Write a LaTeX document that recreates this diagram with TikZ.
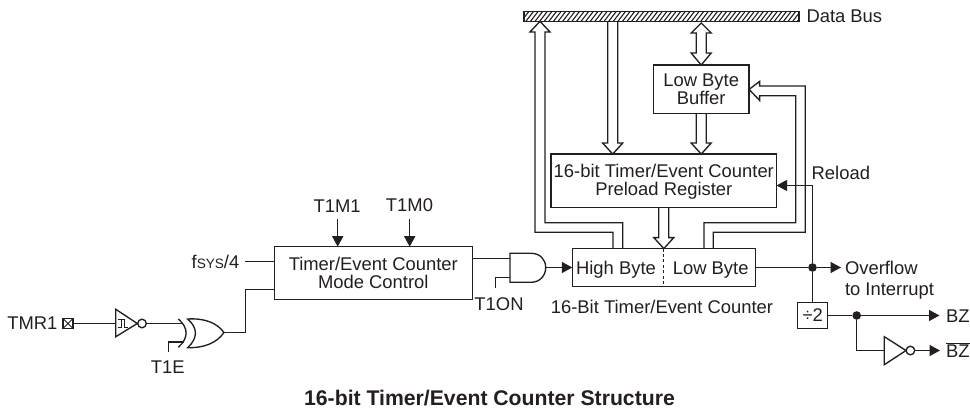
\documentclass[tikz,border=0pt]{standalone}
\usepackage{fontspec}
\setmainfont{Liberation Sans}
\usetikzlibrary{arrows.meta,calc}
\definecolor{ink}{HTML}{231F20}
\tikzset{
  x=1pt,y=-1pt,
  every node/.style={inner sep=0pt,outer sep=0pt,text=ink,font=\fontsize{18.4}{18}\selectfont},
  wire/.style={draw=ink,line width=1.35pt},
  blockbox/.style={draw=ink,line width=1.35pt,align=center},
  label/.style={anchor=base},
  labelw/.style={anchor=base west},
  solidarrow/.style={wire,-{Triangle[length=10.5pt,width=11pt]}},
  bubble/.style={circle,draw=ink,line width=1.35pt,minimum size=8.6pt,fill=white},
  dot/.style={circle,fill=ink,minimum size=8.6pt},
  pipe/.style={draw=ink,line width=1.35pt,line join=miter,fill=none},
}
% hollow arrow heads: #1 = tip, #2 = far end of the shaft
\newcommand{\pipedown}[2]{\draw[pipe] ([xshift=-5pt]#2) -- ([shift={(-5,-11)}]#1) -- ([shift={(-10,-11)}]#1) -- (#1) -- ([shift={(10,-11)}]#1) -- ([shift={(5,-11)}]#1) -- ([xshift=5pt]#2);}
\begin{document}
\begin{tikzpicture}
\useasboundingbox[fill=white] (0,0) rectangle (970,412);

% ---- blocks
\node[blockbox,minimum width=275pt,minimum height=9.4pt] (bus) at (661.5,16.5) {};
\begin{scope}
  \clip (bus.north west) rectangle (bus.south east);
  \foreach \i in {0,4.6,...,300} \draw[ink,line width=1.1pt] (520+\i,23) -- (530+\i,10);
\end{scope}
\draw[wire] (bus.north west) rectangle (bus.south east);
\node[labelw] (busl) at (806.5,23) {Data Bus};

\node[blockbox,minimum width=95.7pt,minimum height=48.7pt] (lbb) at (701.2,89.4) {Low Byte\\Buffer};
\node[blockbox,minimum width=225.5pt,minimum height=53.3pt] (plr) at (663.8,180.7) {};
\node[align=center] (plrt) at (663.8,182.2) {16-bit Timer/Event Counter\\Preload Register};
\node[blockbox,minimum width=183pt,minimum height=37.8pt] (cnt) at (663.8,267.5) {};
\draw[wire,dashed,dash pattern=on 3pt off 2.4pt] (cnt.north) -- (cnt.south);
\node[label] (hb) at (616,274.3) {High Byte};
\node[label] (lb) at (710.7,274.3) {Low Byte};
\node[label] (cntl) at (662,313.5) {16-Bit Timer/Event Counter};
\node[blockbox,minimum width=198pt,minimum height=52.6pt] (mode) at (373.3,273) {Timer/Event Counter\\Mode Control};
\node[blockbox,minimum width=30pt,minimum height=25.4pt] (div) at (812.7,315.5) {÷2};

% ---- hollow buses
\coordinate (bT1) at (540,21.3);
\coordinate (cA) at (613,0 |- cnt.north);
\coordinate (cB) at (622.7,0 |- cnt.north);
\coordinate (cC) at (704,0 |- cnt.north);
\coordinate (cD) at (713.3,0 |- cnt.north);
\draw[pipe] (cA) |- (535,232.3) -- (535,32) -- (530,32) -- (bT1) -- (550,32) -- (545,32) -- (545,222.7) -| (cB);

\coordinate (tipP) at (612.7,0 |- plr.north);
\pipedown{tipP}{tipP |- bus.south}

\coordinate (bTop) at (701.2,23);
\coordinate (lbbTop) at (lbb.north);
\draw[pipe] ([xshift=-5pt]lbb.center |- 0,33) -- ([xshift=-5pt]lbb.center |- 0,53) -- ([xshift=-10pt]lbb.center |- 0,53) -- (lbb.north) -- ([xshift=10pt]lbb.center |- 0,53) -- ([xshift=5pt]lbb.center |- 0,53) -- ([xshift=5pt]lbb.center |- 0,33) -- ([xshift=10pt]lbb.center |- 0,33) -- (bTop) -- ([xshift=-10pt]lbb.center |- 0,33) -- cycle;

\coordinate (tipQ) at (lbb.south |- plr.north);
\pipedown{tipQ}{lbb.south}

\coordinate (tipR) at (cnt.north);
\coordinate (tipS) at (cnt.north |- plr.south);
\pipedown{tipR}{tipS}

\coordinate (tipB) at (lbb.east);
\draw[pipe] (cC) |- (795.7,222.7) -- (795.7,95.7) -- (759.6,95.7) -- (759.6,100.4) -- (tipB) -- (759.6,81.4) -- (759.6,86) -- (805.2,86) -- (805.2,232.3) -| (cD);

% ---- reload / overflow
\node[dot] (ovf) at (812.5,0 |- cnt.east) {};
\node[labelw] (rl) at (811.7,179) {Reload};
\node[labelw] (ovl) at (845,274.3) {Overflow};
\node[labelw] (irq) at (845,295.5) {to Interrupt};
\coordinate (ovTip) at (841,0 |- cnt.east);
\draw[wire] (cnt.east) -- (ovf);
\draw[solidarrow] (ovf) -- (ovTip);
\draw[wire] (ovf) -- (div.north -| ovf);
\coordinate (rlT) at (812.5,0 |- 0,185.5);
\draw[solidarrow] (ovf) -- (rlT) -- (rlT -| plr.east);

% ---- divider outputs
\node[dot] (dv) at (856.7,0 |- div.east) {};
\coordinate (bzTip) at (939.5,0 |- div.east);
\node[labelw] (bz) at (946,322) {BZ};
\node[labelw] (bzn) at (946,357) {$\overline{\hbox{BZ}}$};
\draw[wire] (div.east) -- (dv);
\draw[solidarrow] (dv) -- (bzTip);
\coordinate (nIn) at (884.3,350.5);
\draw[wire] (dv) |- (nIn);
\draw[wire,fill=white] (nIn |- 0,336.7) -- (906,350.5) -- (nIn |- 0,364.7) -- cycle;
\node[bubble] (nb) at (910.4,350.5) {};
\coordinate (bznTip) at (940,350.5);
\draw[solidarrow] (nb) -- (bznTip);

% ---- mode control inputs
\node[label] (m1) at (337.2,212) {T1M1};
\node[label] (m0) at (409.5,211) {T1M0};
\coordinate (m1t) at (337.7,219.3);
\coordinate (m0t) at (409.7,219.3);
\draw[solidarrow] (m1t) -- (m1t |- mode.north);
\draw[solidarrow] (m0t) -- (m0t |- mode.north);

\node[label] (fs) at (215.5,268) {f{\fontsize{13.6}{14}\selectfont SYS}/4};
\coordinate (fsE) at (245,261.5);
\draw[wire] (fsE) -- (fsE -| mode.west);

% ---- TMR1 pin, Schmitt buffer, XOR
\node[labelw] (tm) at (7.3,329) {TMR1};
\node[draw=ink,line width=1.25pt,minimum size=10pt] (pin) at (68,323.5) {};
\draw[ink,line width=0.9pt] (pin.north west) -- (pin.south east) (pin.north east) -- (pin.south west);
\coordinate (bfIn) at (115.8,323.5);
\draw[wire] (pin.east) -- (bfIn);
\draw[wire,line join=miter] (bfIn |- 0,309.3) -- (137.3,323.5) -- (bfIn |- 0,336.7) -- cycle;
\draw[ink,line width=0.9pt] (118.2,319.5) -- (124.5,319.5) -- (124.5,327) -- (128,327) (121.5,319.5) -- (121.5,327) -- (118,327);
\node[bubble] (bb) at (142,323.5) {};
\coordinate (xIn) at (181.5,323.5);
\draw[wire] (bb) -- (xIn);
\draw[wire] (178.3,319) .. controls (188.7,328) and (188.7,338) .. (178.3,347.3);
\draw[wire,line join=miter] (187.7,319) .. controls (205,318) and (217,323) .. (224,332.5)
  .. controls (217,342.5) and (205,348) .. (187.7,347.7)
  .. controls (198,338) and (198,328) .. cycle;
\coordinate (xOut) at (224,332.5);
\coordinate (modeB) at (mode.west |- 0,289.5);
\draw[wire] (xOut) -| (245.5,289.5) -- (modeB);
\coordinate (teIn) at (184,342);
\coordinate (teEnd) at (168.5,352.3);
\draw[wire] (teEnd) |- (teIn);
\node[label] (te) at (167.7,373.5) {T1E};

% ---- AND gate
\coordinate (aOut) at (545.7,0 |- cnt.west);
\coordinate (aIn1) at (510,258.5);
\coordinate (aIn2) at (510,277.5);
\draw[wire,line join=miter] (510,253.3) -- (531,253.3) .. controls (540,253.3) and (545.7,259.5) .. (aOut)
  .. controls (545.7,275.5) and (540,282.3) .. (531,282.3) -- (510,282.3) -- cycle;
\draw[wire] (aIn1 -| mode.east) -- (aIn1);
\coordinate (toEnd) at (495.5,287.7);
\draw[wire] (toEnd) |- (aIn2);
\draw[solidarrow] (aOut) -- (cnt.west);
\node[label] (ton) at (499,310) {T1ON};

% ---- title
\node[label,font=\fontsize{21.2}{22}\selectfont\bfseries] (title) at (489.5,405) {16-bit Timer/Event Counter Structure};
\end{tikzpicture}
\end{document}
